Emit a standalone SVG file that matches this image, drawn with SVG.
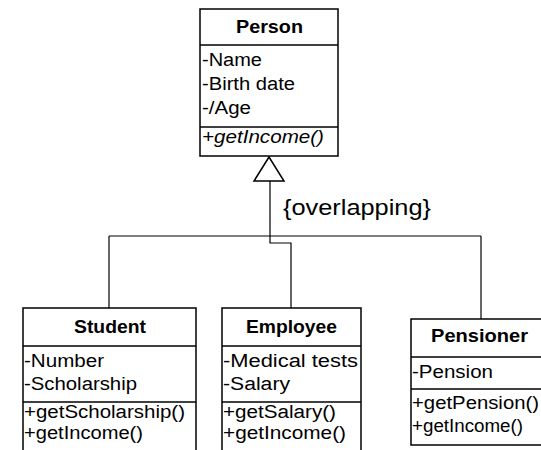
<svg xmlns="http://www.w3.org/2000/svg" width="541" height="450" viewBox="0 0 541 450">
  <style>
    .box { fill: #ffffff; stroke: #000000; stroke-width: 1.5; }
    .sep { stroke: #000000; stroke-width: 1.5; }
    .wire { fill: none; stroke: #000000; stroke-width: 1.2; }
    .t { font-family: "Liberation Sans", Arial, sans-serif; font-size: 18px; fill: #000000; }
    .title { font-weight: bold; text-anchor: start; }
    .it { font-style: italic; }
    .note { font-family: "Liberation Sans", Arial, sans-serif; font-size: 22px; fill: #000000; }
  </style>
  <rect x="0" y="0" width="541" height="450" fill="#ffffff"/>

  <!-- generalization connectors -->
  <g id="connectors">
    <polyline class="wire" points="270,181 270,243 291,243 291,308"/>
    <line class="wire" x1="109" y1="236" x2="481" y2="236"/>
    <line class="wire" x1="109" y1="236" x2="109" y2="308"/>
    <line class="wire" x1="481" y1="236" x2="481" y2="319"/>
    <polygon points="269,157 254,181 284,181" fill="#ffffff" stroke="#000000" stroke-width="1.5"/>
    <text class="note" x="283" y="215" textLength="148" lengthAdjust="spacingAndGlyphs">{overlapping}</text>
  </g>

  <g id="person">
    <rect class="box" x="200" y="9" width="138" height="147"/>
    <line class="sep" x1="200" y1="45" x2="338" y2="45"/>
    <line class="sep" x1="200" y1="127" x2="338" y2="127"/>
    <text class="t title" x="236" y="33" textLength="67" lengthAdjust="spacingAndGlyphs">Person</text>
    <text class="t" x="202" y="66" textLength="60" lengthAdjust="spacingAndGlyphs">-Name</text>
    <text class="t" x="202" y="90" textLength="93" lengthAdjust="spacingAndGlyphs">-Birth date</text>
    <text class="t" x="202" y="114" textLength="49" lengthAdjust="spacingAndGlyphs">-/Age</text>
    <text class="t it" x="202" y="143" textLength="122" lengthAdjust="spacingAndGlyphs">+getIncome()</text>
  </g>

  <g id="student">
    <rect class="box" x="23" y="308" width="173" height="150"/>
    <line class="sep" x1="23" y1="346" x2="196" y2="346"/>
    <line class="sep" x1="23" y1="402" x2="196" y2="402"/>
    <text class="t title" x="74" y="333" textLength="72" lengthAdjust="spacingAndGlyphs">Student</text>
    <text class="t" x="24" y="367" textLength="80" lengthAdjust="spacingAndGlyphs">-Number</text>
    <text class="t" x="24" y="390" textLength="113" lengthAdjust="spacingAndGlyphs">-Scholarship</text>
    <text class="t" x="24" y="418" textLength="161" lengthAdjust="spacingAndGlyphs">+getScholarship()</text>
    <text class="t" x="24" y="439" textLength="119" lengthAdjust="spacingAndGlyphs">+getIncome()</text>
  </g>

  <g id="employee">
    <rect class="box" x="222" y="308" width="139" height="150"/>
    <line class="sep" x1="222" y1="346" x2="361" y2="346"/>
    <line class="sep" x1="222" y1="402" x2="361" y2="402"/>
    <text class="t title" x="246" y="333" textLength="91" lengthAdjust="spacingAndGlyphs">Employee</text>
    <text class="t" x="223" y="367" textLength="135" lengthAdjust="spacingAndGlyphs">-Medical tests</text>
    <text class="t" x="223" y="390" textLength="67" lengthAdjust="spacingAndGlyphs">-Salary</text>
    <text class="t" x="223" y="418" textLength="113" lengthAdjust="spacingAndGlyphs">+getSalary()</text>
    <text class="t" x="223" y="439" textLength="123" lengthAdjust="spacingAndGlyphs">+getIncome()</text>
  </g>

  <g id="pensioner">
    <rect class="box" x="411" y="319" width="140" height="126"/>
    <line class="sep" x1="411" y1="357" x2="551" y2="357"/>
    <line class="sep" x1="411" y1="389" x2="551" y2="389"/>
    <text class="t title" x="431" y="342" textLength="97" lengthAdjust="spacingAndGlyphs">Pensioner</text>
    <text class="t" x="412" y="378" textLength="81" lengthAdjust="spacingAndGlyphs">-Pension</text>
    <text class="t" x="412" y="409" textLength="127" lengthAdjust="spacingAndGlyphs">+getPension()</text>
    <text class="t" x="412" y="432" textLength="111" lengthAdjust="spacingAndGlyphs">+getIncome()</text>
  </g>
</svg>
